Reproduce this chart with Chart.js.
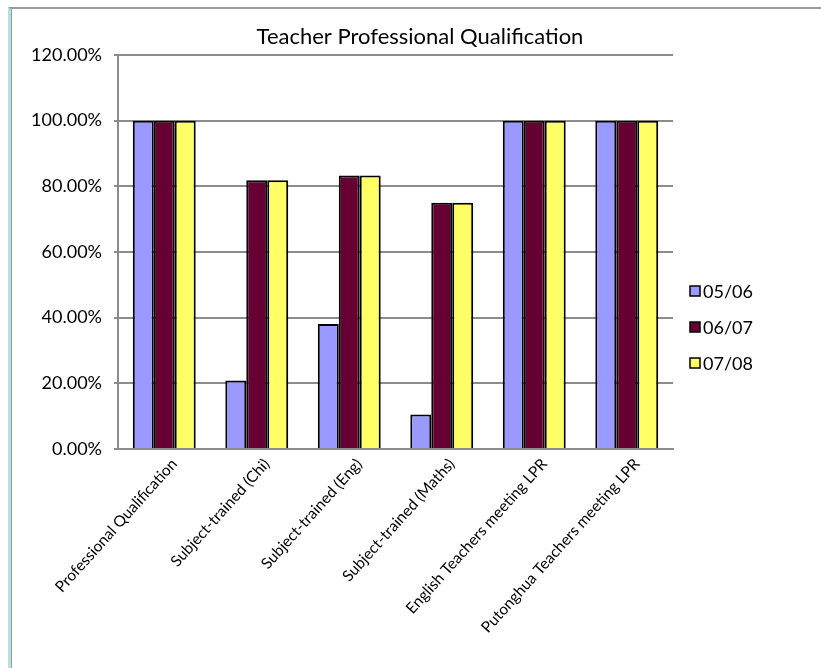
<!DOCTYPE html>
<html>
<head>
<meta charset="utf-8">
<script src="https://cdn.jsdelivr.net/npm/chart.js@4"></script>
<style>
  html, body { margin: 0; padding: 0; background: #fff; }
  #wrap { position: relative; width: 821px; height: 668px; }
  #frame {
    position: absolute; left: 8px; top: 7px; right: 0; bottom: 0;
    border-left: 3px solid #b4dfe9; border-top: 2px solid #9a9a9a;
    box-shadow: inset 1px 0 0 #9a9a9a;
    pointer-events: none;
  }
  canvas { position: absolute; left: 0; top: 0; }
</style>
</head>
<body>
<div id="wrap">
  <canvas id="qualChart" width="821" height="668"></canvas>
  <div id="frame"></div>
</div>
<script>
const categories = [
  'Professional Qualification',
  'Subject-trained (Chi)',
  'Subject-trained (Eng)',
  'Subject-trained (Maths)',
  'English Teachers meeting LPR',
  'Putonghua Teachers meeting LPR'
];
const seriesNames = ['05/06', '06/07', '07/08'];
const year0506 = [1, 0.2083, 0.381, 0.1053, 1, 1];
const year0607 = [1, 0.8182, 0.8333, 0.75, 1, 1];
const year0708 = [1, 0.8182, 0.8333, 0.75, 1, 1];
const yTicks = [0, 0.2, 0.4, 0.6, 0.8, 1.0, 1.2];
const chartTitle = 'Teacher Professional Qualification';

const barColors = ['#9999ff', '#660033', '#ffff66'];
const fontFamily = 'Lato, "Noto Sans", sans-serif';

// title + legend drawn where Excel puts them (title centred on the whole frame,
// legend on the right, a bit below the middle)
const excelBits = {
  id: 'excelBits',
  afterDraw(chart) {
    const c = chart.ctx;
    c.save();
    c.fillStyle = '#000';
    c.font = '22px ' + fontFamily;
    c.textAlign = 'center';
    c.textBaseline = 'middle';
    c.fillText(chartTitle, 420, 37);

    c.font = '18px ' + fontFamily;
    c.textAlign = 'left';
    chart.data.datasets.forEach((ds, i) => {
      const y = 291 + i * 36;
      c.fillStyle = ds.backgroundColor;
      c.fillRect(690, y - 5, 10, 10);
      c.strokeStyle = '#000';
      c.lineWidth = 1.5;
      c.strokeRect(690, y - 5, 10, 10);
      c.fillStyle = '#000';
      c.fillText(ds.label, 703, y + 1);
    });
    c.restore();
  }
};

new Chart(document.getElementById('qualChart'), {
  type: 'bar',
  data: {
    labels: categories,
    datasets: [year0506, year0607, year0708].map((vals, i) => ({
      label: seriesNames[i],
      data: vals,
      backgroundColor: barColors[i],
      borderColor: '#000',
      borderWidth: 2,
      borderSkipped: 'bottom',
      categoryPercentage: 0.68,
      barPercentage: 1.0
    }))
  },
  options: {
    responsive: false,
    animation: false,
    devicePixelRatio: 1,
    layout: { padding: { left: 0, right: 148, top: 55, bottom: 0 } },
    plugins: {
      legend: { display: false },
      tooltip: { enabled: false },
      title: { display: false }
    },
    scales: {
      x: {
        grid: { display: false, drawTicks: false },
        border: { color: '#8c8c8c', width: 2 },
        ticks: {
          color: '#000',
          font: { family: fontFamily, size: 15.5 },
          minRotation: 48,
          maxRotation: 48,
          labelOffset: 10,
          padding: 6
        },
        afterFit(scale) { scale.height = 219; }
      },
      y: {
        min: 0,
        max: 1.2,
        afterBuildTicks(scale) { scale.ticks = yTicks.map(v => ({ value: v })); },
        grid: { color: '#8c8c8c', lineWidth: 2, drawTicks: true, tickLength: 4 },
        border: { color: '#8c8c8c', width: 2 },
        ticks: {
          color: '#000',
          font: { family: fontFamily, size: 18 },
          padding: 12,
          callback: v => (v * 100).toFixed(2) + '%'
        },
        afterFit(scale) { scale.width = 118; }
      }
    }
  },
  plugins: [excelBits]
});
</script>
</body>
</html>
